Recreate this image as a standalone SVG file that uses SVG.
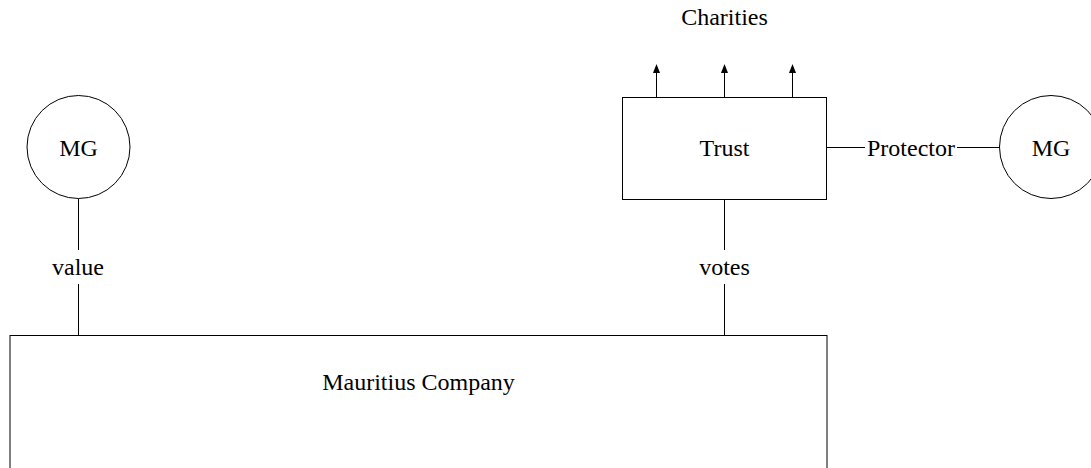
<svg xmlns="http://www.w3.org/2000/svg" width="1091" height="468" viewBox="0 0 1091 468">
  <style>
    .shape { fill: #ffffff; stroke: #000000; stroke-width: 1; }
    .wire { fill: none; stroke: #000000; stroke-width: 1; }
    .label { font-family: "Liberation Serif", "Times New Roman", serif; font-size: 24px; fill: #000000; text-anchor: middle; }
  </style>
  <defs>
    <!-- filled arrowhead, drawn beyond the end of its line -->
    <marker id="arrow" viewBox="0 0 9 7" refX="0" refY="3.5" markerWidth="9" markerHeight="7" markerUnits="userSpaceOnUse" orient="auto">
      <path d="M0,0 L9,3.5 L0,7 Z" fill="#000000"/>
    </marker>
  </defs>
  <rect width="1091" height="468" fill="#ffffff"/>

  <g id="connectors">
    <!-- Trust to charities -->
    <line class="wire" x1="656.5" y1="97.5" x2="656.5" y2="73" marker-end="url(#arrow)"/>
    <line class="wire" x1="724.5" y1="97.5" x2="724.5" y2="73" marker-end="url(#arrow)"/>
    <line class="wire" x1="792.5" y1="97.5" x2="792.5" y2="73" marker-end="url(#arrow)"/>
    <!-- Protector link -->
    <line class="wire" x1="826.5" y1="147.5" x2="865" y2="147.5"/>
    <line class="wire" x1="957" y1="147.5" x2="999.5" y2="147.5"/>
    <text class="label" x="911" y="156">Protector</text>
    <!-- value link -->
    <line class="wire" x1="78.5" y1="198.5" x2="78.5" y2="250"/>
    <line class="wire" x1="78.5" y1="284" x2="78.5" y2="335.5"/>
    <text class="label" x="78" y="275">value</text>
    <!-- votes link -->
    <line class="wire" x1="724.5" y1="199.5" x2="724.5" y2="250"/>
    <line class="wire" x1="724.5" y1="284" x2="724.5" y2="335.5"/>
    <text class="label" x="724.5" y="275">votes</text>
  </g>

  <g id="charities">
    <text class="label" x="724.5" y="25">Charities</text>
  </g>

  <g id="trust">
    <rect class="shape" x="622.5" y="97.5" width="204" height="102"/>
    <text class="label" x="724.5" y="156">Trust</text>
  </g>

  <g id="mg-left">
    <circle class="shape" cx="78.5" cy="147" r="51.5"/>
    <text class="label" x="78.5" y="156">MG</text>
  </g>

  <g id="mg-right">
    <circle class="shape" cx="1051" cy="147" r="51.5"/>
    <text class="label" x="1051" y="156">MG</text>
  </g>

  <g id="mauritius-company">
    <rect class="shape" x="10" y="335.5" width="817" height="150"/>
    <text class="label" x="418.5" y="390">Mauritius Company</text>
  </g>
</svg>
